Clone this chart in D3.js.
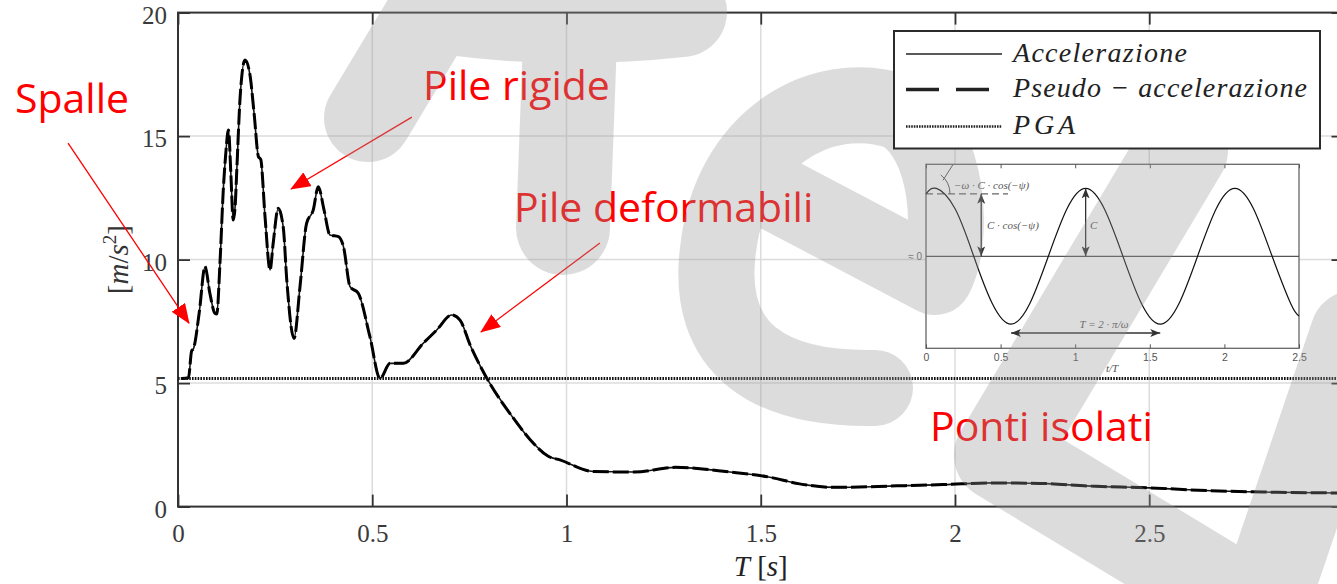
<!DOCTYPE html>
<html>
<head>
<meta charset="utf-8">
<script src="https://cdn.jsdelivr.net/npm/d3@7"></script>
<style>
  html, body { margin: 0; padding: 0; background: #fff; overflow: hidden; }
  svg { display: block; }
</style>
</head>
<body>
<svg id="chart" width="1337" height="584"></svg>
<script>
// ---- data ----
const periodT = [0.010, 0.027, 0.035, 0.040, 0.055, 0.0695, 0.082, 0.095, 0.100, 0.108, 0.117, 0.122, 0.130, 0.136,
  0.142, 0.147, 0.151, 0.160, 0.1725, 0.185, 0.196, 0.207, 0.213, 0.224, 0.237, 0.245, 0.258, 0.271, 0.280, 0.2986,
  0.314, 0.331, 0.348, 0.361, 0.376, 0.391, 0.413, 0.426, 0.443, 0.464, 0.494, 0.520, 0.546, 0.580, 0.631, 0.666,
  0.7045, 0.726, 0.752, 0.792, 0.861, 0.906, 0.953, 0.983, 1.070, 1.175, 1.280, 1.420, 1.520, 1.600, 1.690, 1.850,
  1.970, 2.100, 2.220, 2.350, 2.500, 2.660, 2.830, 3.000];
const accel = [5.19, 5.22, 6.30, 6.40, 7.90, 9.72, 8.64, 7.83, 7.80, 9.85, 12.95, 14.10, 15.25, 13.50,
  11.60, 12.14, 13.50, 16.60, 18.08, 17.50, 15.90, 14.17, 14.05, 11.74, 9.58, 10.66, 12.08, 11.30, 9.17, 6.81,
  8.90, 11.47, 12.00, 12.95, 12.00, 11.00, 10.93, 10.52, 8.90, 8.64, 6.88, 5.19, 5.80, 5.80, 6.61, 7.15,
  7.76, 7.55, 6.54, 5.28, 3.63, 2.72, 2.04, 1.89, 1.42, 1.40, 1.59, 1.40, 1.20, 0.92, 0.78, 0.84,
  0.89, 0.96, 0.94, 0.83, 0.76, 0.64, 0.58, 0.55];
const pseudoAccel = [5.19, 5.22, 6.30, 6.40, 7.90, 9.72, 8.64, 7.83, 7.80, 9.85, 12.95, 14.10, 15.25, 13.50,
  11.60, 12.14, 13.50, 16.60, 18.08, 17.50, 15.90, 14.17, 14.05, 11.74, 9.58, 10.66, 12.08, 11.30, 9.17, 6.81,
  8.90, 11.47, 12.00, 12.95, 12.00, 11.00, 10.93, 10.52, 8.90, 8.64, 6.88, 5.19, 5.80, 5.80, 6.61, 7.15,
  7.76, 7.55, 6.54, 5.28, 3.63, 2.72, 2.04, 1.89, 1.42, 1.40, 1.59, 1.40, 1.20, 0.92, 0.78, 0.84,
  0.89, 0.96, 0.94, 0.83, 0.76, 0.64, 0.58, 0.55];
const pga = 5.19;

const xTicks = [0, 0.5, 1, 1.5, 2, 2.5, 3];
const xTickLabels = ["0", "0.5", "1", "1.5", "2", "2.5", ""]; // 3 falls outside the crop
const yTicks = [0, 5, 10, 15, 20];
const legendLabels = ["Accelerazione", "Pseudo \u2212 accelerazione", "PGA"];

// inset sketch (t/T, normalised value)
const insetT = [0, 0.07, 0.195, 0.32, 0.445, 0.57, 0.695, 0.82, 0.945, 1.07, 1.195, 1.32, 1.445,
  1.57, 1.695, 1.82, 1.945, 2.07, 2.195, 2.32, 2.445, 2.5];
const insetY = [0.92, 1, 0.7, 0, -0.7, -1, -0.7, 0, 0.7, 1, 0.7, 0, -0.7,
  -1, -0.7, 0, 0.7, 1, 0.7, 0, -0.7, -0.88];
const insetTicks = [0, 0.5, 1, 1.5, 2, 2.5];

// red notes: text and arrow ends in data units [T, value]
const noteText = ["Spalle", "Pile rigide", "Pile deformabili", "Ponti isolati"];
const arrowFrom = [[-0.283, 14.72], [0.602, 15.77], [1.086, 10.67]];
const arrowTo = [[0.0283, 7.43], [0.291, 12.86], [0.78, 7.07]];

// ---- layout ----
const W = 1337, H = 584;
const notePos = [[15, 113], [423, 100], [514, 222], [930, 441]];
const serif = "'Liberation Serif', 'DejaVu Serif', serif";

const svg = d3.select("#chart");
svg.append("rect").attr("width", W).attr("height", H).attr("fill", "#fff");

const defs = svg.append("defs");
defs.append("marker").attr("id", "redHead")
  .attr("viewBox", "0 0 20 16").attr("refX", 19).attr("refY", 8)
  .attr("markerWidth", 20).attr("markerHeight", 16)
  .attr("markerUnits", "userSpaceOnUse").attr("orient", "auto")
  .append("path").attr("d", "M0,0 L20,8 L0,16 Z").attr("fill", "#ff0000");
defs.append("marker").attr("id", "smallHead")
  .attr("viewBox", "0 0 10 8").attr("refX", 10).attr("refY", 4)
  .attr("markerWidth", 10).attr("markerHeight", 8)
  .attr("markerUnits", "userSpaceOnUse").attr("orient", "auto-start-reverse")
  .append("path").attr("d", "M0,0 L10,4 L0,8 L2.5,4 Z").attr("fill", "#333");

const x = d3.scaleLinear().domain([0, 3]).range([178, 1343.5]);
const y = d3.scaleLinear().domain([0, 20]).range([506.6, 12.6]);

// grid
const grid = svg.append("g").attr("stroke", "#dcdcdc").attr("stroke-width", 1.5);
grid.selectAll(".gx").data(xTicks.slice(1, -1)).join("line").attr("class", "gx")
  .attr("x1", d => x(d)).attr("x2", d => x(d)).attr("y1", y(20)).attr("y2", y(0));
grid.selectAll(".gy").data(yTicks.slice(1, -1)).join("line").attr("class", "gy")
  .attr("x1", x(0)).attr("x2", x(3)).attr("y1", d => y(d)).attr("y2", d => y(d));

// axes
const axisStyle = g => {
  g.select(".domain").remove();
  g.selectAll(".tick line").attr("stroke", "#333").attr("stroke-width", 1.8);
  g.selectAll("text").attr("font-family", serif).attr("font-size", 25).attr("fill", "#3a3a3a");
};
svg.append("g").attr("transform", `translate(0,${y(0)})`)
  .call(d3.axisBottom(x).tickValues(xTicks).tickSizeInner(-12).tickSizeOuter(0).tickPadding(18)
    .tickFormat((d, i) => xTickLabels[i]))
  .call(axisStyle);
svg.append("g").attr("transform", `translate(0,${y(20)})`)
  .call(d3.axisTop(x).tickValues(xTicks).tickSizeInner(-12).tickSizeOuter(0).tickFormat(() => ""))
  .call(axisStyle);
svg.append("g").attr("transform", `translate(${x(0)},0)`)
  .call(d3.axisLeft(y).tickValues(yTicks).tickSizeInner(-12).tickSizeOuter(0).tickPadding(11))
  .call(axisStyle)
  .selectAll("text").attr("dy", "0.42em");
svg.append("g").attr("transform", `translate(${x(3)},0)`)
  .call(d3.axisRight(y).tickValues(yTicks).tickSizeInner(-12).tickSizeOuter(0).tickFormat(() => ""))
  .call(axisStyle);
svg.append("rect")
  .attr("x", x(0)).attr("y", y(20)).attr("width", x(3) - x(0)).attr("height", y(0) - y(20))
  .attr("fill", "none").attr("stroke", "#333").attr("stroke-width", 2);

// axis titles
const xt = svg.append("text").attr("x", (x(0) + x(3)) / 2).attr("y", 576)
  .attr("text-anchor", "middle").attr("font-family", serif).attr("font-size", 29).attr("fill", "#222");
xt.append("tspan").attr("font-style", "italic").text("T");
xt.append("tspan").text(" [");
xt.append("tspan").attr("font-style", "italic").text("s");
xt.append("tspan").text("]");

const yt = svg.append("text").attr("transform", `translate(128,${(y(0) + y(20)) / 2}) rotate(-90)`)
  .attr("text-anchor", "middle").attr("font-family", serif).attr("font-size", 29).attr("fill", "#333");
yt.append("tspan").text("[");
yt.append("tspan").attr("font-style", "italic").text("m");
yt.append("tspan").text("/");
yt.append("tspan").attr("font-style", "italic").text("s");
yt.append("tspan").attr("font-size", 19).attr("dy", -12).text("2");
yt.append("tspan").attr("dy", 12).text("]");

// curves
const pts = vals => periodT.map((t, i) => [t, vals[i]]);
const line = d3.line().x(d => x(d[0])).y(d => y(d[1])).curve(d3.curveMonotoneX);
svg.append("path").attr("d", line(pts(accel)))
  .attr("fill", "none").attr("stroke", "#111").attr("stroke-width", 1.6);
svg.append("path").attr("d", line(pts(pseudoAccel)))
  .attr("fill", "none").attr("stroke", "#000").attr("stroke-width", 3)
  .attr("stroke-dasharray", "16,4").attr("stroke-linejoin", "round");
svg.append("line").attr("x1", x(0)).attr("x2", x(3)).attr("y1", y(pga)).attr("y2", y(pga))
  .attr("stroke", "#111").attr("stroke-width", 3).attr("stroke-dasharray", "1.6,1.2");

// inset sketch
const xi = d3.scaleLinear().domain([0, 2.5]).range([926, 1299]);
const yi = d3.scaleLinear().domain([-1.355, 1.355]).range([348.3, 164.3]);
const ins = svg.append("g");
ins.append("rect").attr("x", xi(0)).attr("y", yi(1.355)).attr("width", xi(2.5) - xi(0)).attr("height", yi(-1.355) - yi(1.355))
  .attr("fill", "#fff").attr("stroke", "#666").attr("stroke-width", 1.3);
ins.append("g").attr("transform", `translate(0,${yi(-1.355)})`)
  .call(d3.axisBottom(xi).tickValues(insetTicks).tickSizeInner(-4).tickSizeOuter(0).tickPadding(5).tickFormat(d => String(d)))
  .call(g => {
    g.select(".domain").remove();
    g.selectAll(".tick line").attr("stroke", "#555");
    g.selectAll("text").attr("font-family", "'Liberation Sans', Arial, sans-serif").attr("font-size", 10.5).attr("fill", "#555");
  });
ins.append("g").attr("transform", `translate(0,${yi(1.355)})`)
  .call(d3.axisTop(xi).tickValues(insetTicks).tickSizeInner(-4).tickSizeOuter(0).tickFormat(() => ""))
  .call(g => { g.select(".domain").remove(); g.selectAll(".tick line").attr("stroke", "#555"); });
ins.append("line").attr("x1", xi(0)).attr("x2", xi(2.5)).attr("y1", yi(0)).attr("y2", yi(0))
  .attr("stroke", "#555").attr("stroke-width", 1.3);
ins.append("line").attr("x1", xi(0)).attr("x2", xi(0.55)).attr("y1", yi(insetY[0])).attr("y2", yi(insetY[0]))
  .attr("stroke", "#666").attr("stroke-width", 1.4).attr("stroke-dasharray", "7,4");
ins.append("path")
  .attr("d", d3.line().x(d => xi(d[0])).y(d => yi(d[1])).curve(d3.curveNatural)(insetT.map((t, i) => [t, insetY[i]])))
  .attr("fill", "none").attr("stroke", "#111").attr("stroke-width", 1.2);
// tangent and angle mark
ins.append("line").attr("x1", xi(0.114)).attr("y1", yi(1.12)).attr("x2", xi(0.179)).attr("y2", yi(1.345))
  .attr("stroke", "#555").attr("stroke-width", 1);
{
  const cx = xi(0), cy = yi(insetY[0]), r = 24, a = -52 * Math.PI / 180;
  ins.append("path")
    .attr("d", `M${cx + r * Math.cos(a)},${cy + r * Math.sin(a)} A${r},${r} 0 0 1 ${cx + r},${cy}`)
    .attr("fill", "none").attr("stroke", "#555").attr("stroke-width", 1);
}
// dimension arrows
const dimArrow = (x1, y1, x2, y2) => ins.append("line")
  .attr("x1", x1).attr("y1", y1).attr("x2", x2).attr("y2", y2)
  .attr("stroke", "#333").attr("stroke-width", 1.3)
  .attr("marker-start", "url(#smallHead)").attr("marker-end", "url(#smallHead)");
dimArrow(xi(0.37), yi(insetY[0]), xi(0.37), yi(0));
dimArrow(xi(1.07), yi(1), xi(1.07), yi(0));
dimArrow(xi(0.57), yi(-1.13), xi(1.57), yi(-1.13));
const insText = (tx, ty, s, anchor) => ins.append("text").attr("x", tx).attr("y", ty)
  .attr("text-anchor", anchor || "start").attr("font-family", serif).attr("font-style", "italic")
  .attr("font-size", 11).attr("fill", "#555").text(s);
insText(954, 189, "\u2212\u03c9 \u00b7 C \u00b7 cos(\u2212\u03c8)");
insText(987, 229, "C \u00b7 cos(\u2212\u03c8)");
insText(1090, 229, "C");
insText(1104, 328, "T = 2 \u00b7 \u03c0/\u03c9", "middle");
insText(1112, 372, "t/T", "middle");
ins.append("text").attr("x", 922).attr("y", yi(0) + 4).attr("text-anchor", "end")
  .attr("font-family", "'Liberation Sans', Arial, sans-serif").attr("font-size", 10).attr("fill", "#666").text("\u2248 0");

// red notes
const notes = svg.append("g");
noteText.forEach((s, i) => {
  notes.append("text").attr("x", notePos[i][0]).attr("y", notePos[i][1])
    .attr("font-family", "'Open Sans', 'Noto Sans', sans-serif").attr("font-size", 41)
    .attr("fill", "#ff0000").text(s);
});
arrowFrom.forEach((f, i) => {
  notes.append("line")
    .attr("x1", x(f[0])).attr("y1", y(f[1])).attr("x2", x(arrowTo[i][0])).attr("y2", y(arrowTo[i][1]))
    .attr("stroke", "#ff0000").attr("stroke-width", 1.3).attr("marker-end", "url(#redHead)");
});

// watermark strokes
const wm = svg.append("g").attr("opacity", 0.33).attr("fill", "none").attr("stroke", "#989898")
  .attr("stroke-linecap", "round").attr("stroke-linejoin", "round");
[
  ["M368,118 L448,-15", 88],
  ["M450,10 Q560,25 682,12", 90],
  ["M570,40 L563,228", 94],
  ["M745,177 L935,277 C955,240 950,140 900,112 C820,85 730,140 718,250 C705,350 770,390 875,388", 76],
  ["M1182,150 L1000,455 L1240,600", 92],
  ["M1265,600 L1355,335", 90]
].forEach(([d, w]) => wm.append("path").attr("d", d).attr("stroke-width", w));

// legend (opaque, above the watermark)
const lg = svg.append("g");
lg.append("rect").attr("x", 894).attr("y", 31).attr("width", 426).attr("height", 117.5)
  .attr("fill", "#fff").attr("stroke", "#2a2a2a").attr("stroke-width", 2);
const rowY = [54, 89.5, 126.5];
const legendStyle = [
  { w: 1.3, dash: null },
  { w: 3.4, dash: "33,17" },
  { w: 2.6, dash: "1.6,1" }
];
const legendLen = [174, 294, 62];
legendLabels.forEach((s, i) => {
  lg.append("line").attr("x1", 906).attr("x2", 1002).attr("y1", rowY[i]).attr("y2", rowY[i])
    .attr("stroke", "#222").attr("stroke-width", legendStyle[i].w)
    .attr("stroke-dasharray", legendStyle[i].dash);
  lg.append("text").attr("x", 1013).attr("y", rowY[i] + 7.5)
    .attr("font-family", serif).attr("font-style", "italic").attr("font-size", 28).attr("fill", "#222")
    .attr("textLength", legendLen[i]).attr("lengthAdjust", "spacing").text(s);
});
</script>
</body>
</html>
